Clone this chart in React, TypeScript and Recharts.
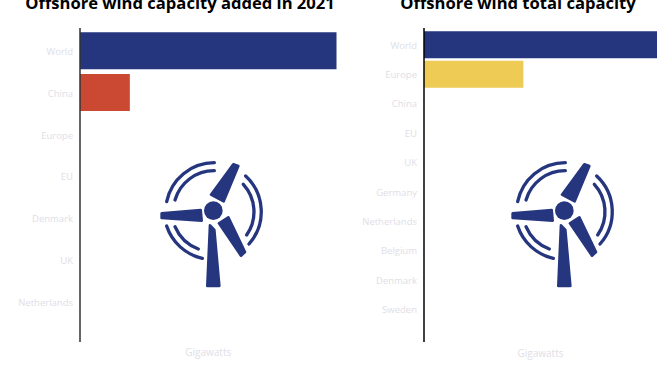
import React from 'react';
import { BarChart, Bar, XAxis, YAxis, Cell } from 'recharts';

const addedCategories = ['World', 'China', 'Europe', 'EU', 'Denmark', 'UK', 'Netherlands'];
const addedValues = [21.1, 4.1, 0, 0, 0, 0, 0];
const addedColors = ['#25367f', '#cb4832'];

const totalCategories = ['World', 'Europe', 'China', 'EU', 'UK', 'Germany', 'Netherlands', 'Belgium', 'Denmark', 'Sweden'];
const totalValues = [57.2, 24.4, 0, 0, 0, 0, 0, 0, 0, 0];
const totalColors = ['#25367f', '#edcb55'];

const FONT = '"Open Sans", sans-serif';
const LABEL_COLOR = '#e0dee6';
const NAVY = '#25367f';

const toRows = (categories: string[], values: number[]) =>
  categories.map((name, i) => ({ name, value: values[i] }));

// hub sits at 190,182 in this viewBox, arcs are drawn around it
const Turbine = ({ left, top }: { left: number; top: number }) => (
  <svg
    viewBox="0 0 375 435"
    width={125}
    height={145}
    style={{ position: 'absolute', left, top }}
  >
    <g fill="none" stroke={NAVY} strokeWidth={10} strokeLinecap="round">
      <path d="M50 155 A146 146 0 0 1 193 38" />
      <path d="M75 150 A122 122 0 0 1 193 62" />
      <path d="M287 78 A146 146 0 0 1 297 282" />
      <path d="M280 103 A122 122 0 0 1 290 255" />
      <path d="M50 228 A146 146 0 0 0 157 325" />
      <path d="M75 230 A122 122 0 0 0 145 297" />
    </g>
    <circle cx={190} cy={182} r={28} fill={NAVY} />
    <g fill={NAVY} stroke={NAVY} strokeWidth={8} strokeLinejoin="round">
      <polygon points="183,134 250,43 265,48 221,154" />
      <polygon points="35,190 152,180 155,212 35,204" />
      <polygon points="207,220 235,202 285,306 273,317" />
      <polygon points="180,226 193,240 208,408 172,408" />
    </g>
  </svg>
);

const Title = ({ text, center }: { text: string; center: number }) => (
  <div
    style={{
      position: 'absolute',
      left: center - 200,
      width: 400,
      top: -10,
      textAlign: 'center',
      fontFamily: FONT,
      fontWeight: 700,
      fontSize: 16.6,
      lineHeight: '26px',
      color: '#000',
    }}
  >
    {text}
  </div>
);

type PanelProps = {
  rows: { name: string; value: number }[];
  colors: string[];
  left: number;
  width: number;
  axisWidth: number;
  marginRight: number;
  padBottom: number;
  barGapPx: number;
  axisColor: string;
  labelOffset: number;
};

const Panel = ({ rows, colors, left, width, axisWidth, marginRight, padBottom, barGapPx, axisColor, labelOffset }: PanelProps) => (
  <div style={{ position: 'absolute', left, top: 0 }}>
    <BarChart
      width={width}
      height={372}
      data={rows}
      layout="vertical"
      margin={{ top: 28, right: marginRight, bottom: 0, left: 0 }}
      barCategoryGap={barGapPx}
    >
      <XAxis
        type="number"
        domain={[0, rows[0].value]}
        axisLine={false}
        tickLine={false}
        tick={false}
        height={30}
        label={{
          value: 'Gigawatts',
          position: 'insideBottom',
          offset: labelOffset,
          fill: LABEL_COLOR,
          fontFamily: FONT,
          fontSize: 10,
        }}
      />
      <YAxis
        type="category"
        dataKey="name"
        width={axisWidth}
        interval={0}
        padding={{ top: 2, bottom: padBottom }}
        axisLine={{ stroke: axisColor, strokeWidth: 1.5 }}
        tickLine={false}
        tickMargin={1}
        tick={{ fill: LABEL_COLOR, fontFamily: FONT, fontSize: 9.5, dy: 0.5 }}
      />
      <Bar dataKey="value" isAnimationActive={false}>
        {rows.map((row, i) => (
          <Cell key={row.name} fill={colors[i] ?? NAVY} />
        ))}
      </Bar>
    </BarChart>
  </div>
);

export default function App() {
  return (
    <div style={{ position: 'absolute', left: 0, top: 0, width: 672, height: 372, overflow: 'hidden', background: '#fff' }}>
      <Panel
        rows={toRows(addedCategories, addedValues)}
        colors={addedColors}
        left={0}
        width={340}
        axisWidth={80}
        marginRight={3.5}
        padBottom={19}
        barGapPx={2.2}
        axisColor="#333"
        labelOffset={16}
      />
      <Panel
        rows={toRows(totalCategories, totalValues)}
        colors={totalColors}
        left={340}
        width={332}
        axisWidth={84}
        marginRight={15}
        padBottom={18}
        barGapPx={1.3}
        axisColor="#000"
        labelOffset={15}
      />
      <Title text="Offshore wind capacity added in 2021" center={180} />
      <Title text="Offshore wind total capacity" center={518} />
      <Turbine left={150} top={150} />
      <Turbine left={501} top={150} />
    </div>
  );
}
